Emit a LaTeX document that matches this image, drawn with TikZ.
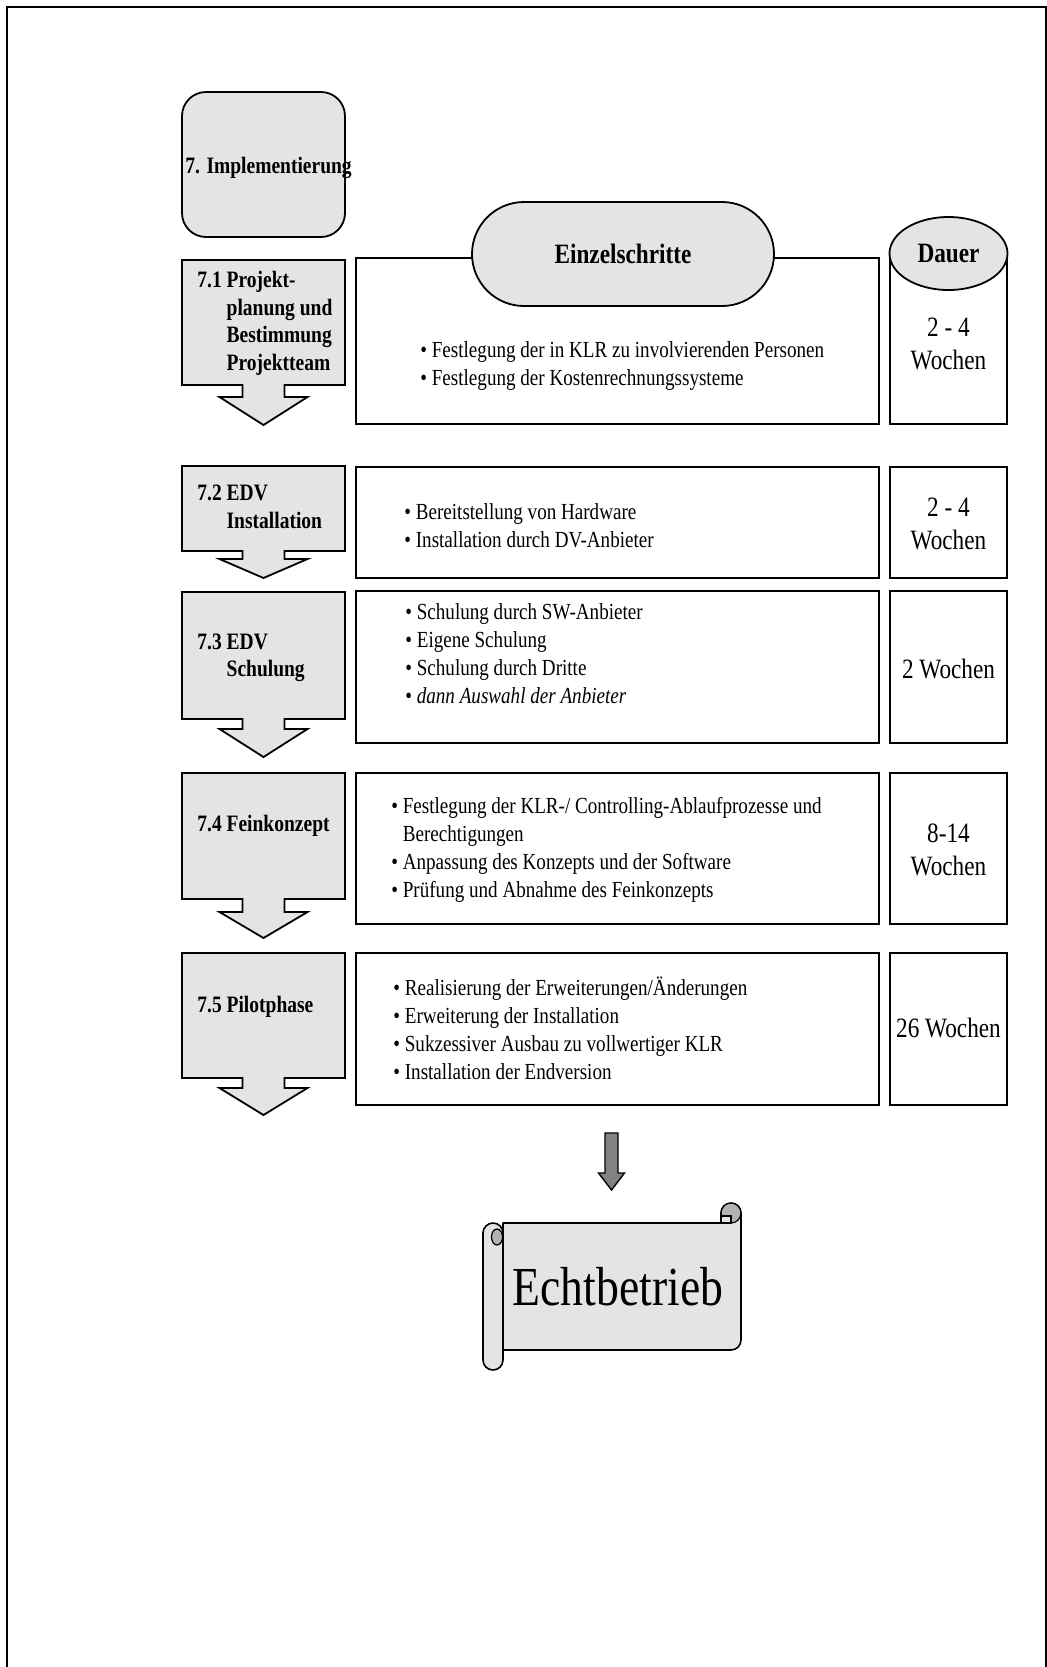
\documentclass[tikz,border=0pt]{standalone}
\usepackage{fontspec}
\setmainfont{Liberation Serif}[FakeStretch=0.83]
\usetikzlibrary{fit,shapes.geometric}

\definecolor{panel}{RGB}{228,228,228}
\definecolor{curlshade}{RGB}{178,178,178}
\definecolor{pointer}{RGB}{130,130,130}

\tikzset{
  outline/.style={draw=black, line width=0.9pt},
  phase/.style={outline, fill=panel, line join=miter},
  framebox/.style={outline, rectangle, inner sep=0pt},
  phaselabel/.style={anchor=west, inner sep=0pt, font=\bfseries\fontsize{11.75}{13.75}\selectfont},
  itemlist/.style={anchor=west, inner sep=0pt, font=\fontsize{11.5}{14}\selectfont},
  weeks/.style={inner sep=0pt, align=center, font=\fontsize{14}{16.5}\selectfont},
  heading/.style={outline, fill=panel, inner sep=0pt, font=\bfseries\fontsize{14}{16}\selectfont},
  paper/.style={draw=black, line width=0.8pt, fill=panel, line join=round},
  curl/.style={draw=black, line width=0.6pt, fill=curlshade},
  blockarrow/.style={draw=black, line width=0.7pt, fill=pointer, line join=miter},
}

% down-arrow callout of one phase: tip name, box top, box bottom, head top, tip
\newcommand\phaseshape[5]{%
  \path[phase] (182,#2) -- (345,#2) -- (345,#3) -- (284.5,#3) -- (284.5,#4)
    -- (307.5,#4) -- (263.5,#5) -- (219.5,#4) -- (242.5,#4) -- (242.5,#3)
    -- (182,#3) -- cycle;
  \coordinate (#1) at (263.5,#5);}

\begin{document}
\begin{tikzpicture}[x=0.5pt, y=-0.5pt]
\useasboundingbox (0,0) rectangle (1047,1667);

% page frame, open at the bottom
\draw[line width=1pt] (7,1667) -- (7,7) -- (1046,7) -- (1046,1667);

% ---------------- phase column ----------------
\node[phase, rounded corners=12pt, inner sep=0pt, fit={(182,92) (345,237)}] (impl) {};
\node[phaselabel] (impltext) at (185,168) {7. Implementierung};

\phaseshape{p1tip}{260}{385}{397}{425}
\node[phaselabel] (p1) at (197,323.5) {\begin{tabular}{@{}l@{ }l@{}}7.1 & Projekt-\\ & planung und\\ & Bestimmung\\ & Projektteam\end{tabular}};

\phaseshape{p2tip}{466}{551}{559}{578}
\node[phaselabel] (p2) at (197,509) {\begin{tabular}{@{}l@{ }l@{}}7.2 & EDV\\ & Installation\end{tabular}};

\phaseshape{p3tip}{592}{719}{729}{757}
\node[phaselabel] (p3) at (197,657.5) {\begin{tabular}{@{}l@{ }l@{}}7.3 & EDV\\ & Schulung\end{tabular}};

\phaseshape{p4tip}{773}{899}{912}{938}
\node[phaselabel] (p4) at (197,826) {7.4 Feinkonzept};

\phaseshape{p5tip}{953}{1078}{1088}{1115}
\node[phaselabel] (p5) at (197,1007) {7.5 Pilotphase};

% ---------------- single steps ----------------
\node[framebox, fit={(356,258) (879,424)}] (s1) {};
\node[framebox, fit={(356,467) (879,578)}] (s2) {};
\node[framebox, fit={(356,591) (879,743)}] (s3) {};
\node[framebox, fit={(356,773) (879,924)}] (s4) {};
\node[framebox, fit={(356,953) (879,1105)}] (s5) {};

\node[heading, rounded corners=26pt, minimum width=151pt, minimum height=52pt] (steps) at (623,254) {Einzelschritte};

\node[itemlist] (s1text) at (420,365.5) {\begin{tabular}{@{}l@{ }l@{}}
\textbullet & Festlegung der in KLR zu involvierenden Personen\\
\textbullet & Festlegung der Kostenrechnungssysteme\end{tabular}};

\node[itemlist] (s2text) at (404,528) {\begin{tabular}{@{}l@{ }l@{}}
\textbullet & Bereitstellung von Hardware\\
\textbullet & Installation durch DV-Anbieter\end{tabular}};

\node[itemlist] (s3text) at (405,655.5) {\begin{tabular}{@{}l@{ }l@{}}
\textbullet & Schulung durch SW-Anbieter\\
\textbullet & Eigene Schulung\\
\textbullet & Schulung durch Dritte\\
\textbullet & \textit{dann Auswahl der Anbieter}\end{tabular}};

\node[itemlist] (s4text) at (391,849.75) {\begin{tabular}{@{}l@{ }l@{}}
\textbullet & Festlegung der KLR-/ Controlling-Ablaufprozesse und\\
 & Berechtigungen\\
\textbullet & Anpassung des Konzepts und der Software\\
\textbullet & Prüfung und Abnahme des Feinkonzepts\end{tabular}};

\node[itemlist] (s5text) at (393,1031.75) {\begin{tabular}{@{}l@{ }l@{}}
\textbullet & Realisierung der Erweiterungen/Änderungen\\
\textbullet & Erweiterung der Installation\\
\textbullet & Sukzessiver Ausbau zu vollwertiger KLR\\
\textbullet & Installation der Endversion\end{tabular}};

% ---------------- durations ----------------
\node[framebox, fit={(890,254) (1007,424)}] (d1) {};
\node[framebox, fit={(890,467) (1007,578)}] (d2) {};
\node[framebox, fit={(890,591) (1007,743)}] (d3) {};
\node[framebox, fit={(890,773) (1007,924)}] (d4) {};
\node[framebox, fit={(890,953) (1007,1105)}] (d5) {};

\node[heading, ellipse, minimum width=59pt, minimum height=36.5pt] (dauer) at (948.5,253.5) {Dauer};

\node[weeks] (w1) at (948.5,343.5) {2 - 4\\Wochen};
\node[weeks] (w2) at (948.5,523.5) {2 - 4\\Wochen};
\node[weeks] (w3) at (948.5,669) {2 Wochen};
\node[weeks] (w4) at (948.5,850) {8-14\\Wochen};
\node[weeks] (w5) at (948.5,1028) {26 Wochen};

% ---------------- go-live ----------------
\path[blockarrow] (605,1133) -- (618,1133) -- (618,1173) -- (624.5,1173)
  -- (611.5,1190) -- (598.5,1173) -- (605,1173) -- cycle;

% scroll: sheet, left roll, curls
\path[paper] (503,1223) -- (721,1223) -- (721,1213) arc[start angle=180, end angle=0, radius=5pt]
  -- (741,1340) arc[start angle=0, end angle=-90, radius=5pt] -- (503,1350) -- cycle;
\path[paper] (483,1233) arc[start angle=180, end angle=0, radius=5pt]
  -- (503,1360) arc[start angle=0, end angle=-180, radius=5pt] -- cycle;
\path[curl] (497,1237) ellipse[x radius=2.75pt, y radius=4pt];
\path[curl] (731,1213) circle[radius=5pt];
\path[curl, fill=panel] (721,1223) -- (721,1216) -- (731,1216) -- (731,1223) -- cycle;

\node[inner sep=0pt, font=\fontsize{27.5}{30}\selectfont] (live) at (618,1287) {Echtbetrieb};
\end{tikzpicture}
\end{document}
